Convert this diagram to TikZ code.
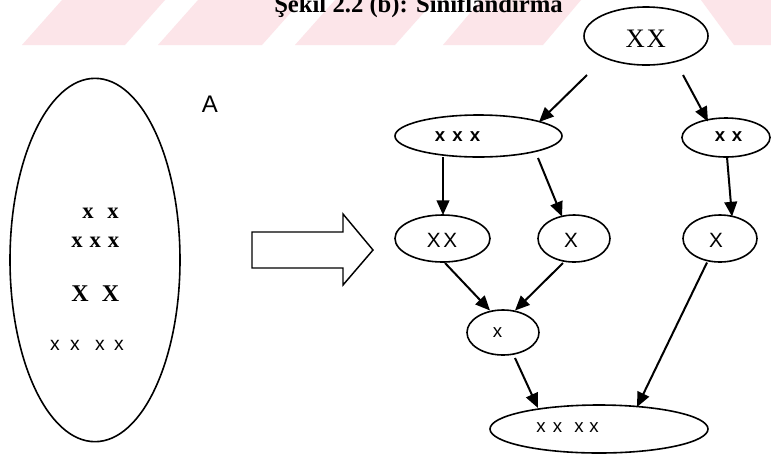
\documentclass[tikz,border=0pt]{standalone}
\usepackage{fontspec}
\setmainfont{Liberation Serif}
\setsansfont{Liberation Sans}
\usetikzlibrary{shapes.geometric,arrows.meta,calc}
% one pixel of the drawing grid
\newlength{\pxu}\setlength{\pxu}{0.75pt}
\definecolor{wmark}{RGB}{252,229,233}
\begin{document}
\begin{tikzpicture}[x=0.75pt,y=-0.75pt,
  oval/.style={draw,ellipse,line width=1.2pt,fill=white,inner sep=0pt},
  arr/.style={line width=1.5pt,-{Triangle[length=11pt,width=9.5pt]}},
  lbl/.style={inner sep=0pt,outer sep=0pt},
  serifbig/.style={font=\bfseries\fontsize{17}{19}\selectfont},
  sanslbl/.style={font=\sffamily\fontsize{15.5}{17}\selectfont},
  sansbold/.style={font=\sffamily\bfseries\fontsize{14}{16}\selectfont},
  sanssmall/.style={font=\sffamily\fontsize{14}{16}\selectfont}]
\useasboundingbox (0,0) rectangle (771,455);
\clip (0,0) rectangle (771,455);
\fill[white] (0,0) rectangle (771,455);

% slanted background stripes along the top edge
\fill[wmark] (22,45) -- (62,0) -- (165,0) -- (125,45) -- cycle;
\fill[wmark] (158,45) -- (198,0) -- (302,0) -- (262,45) -- cycle;
\fill[wmark] (295,45) -- (335,0) -- (435,0) -- (395,45) -- cycle;
\fill[wmark] (443,45) -- (481,0) -- (581,0) -- (543,45) -- cycle;
\fill[wmark] (701,0) -- (771,0) -- (771,45) -- (734,45) -- cycle;

% caption, running off the top edge
\node[lbl, anchor=base, font=\bfseries\fontsize{18.5}{20}\selectfont] (title) at (418.5,12.5) {Şekil 2.2 (b): Sınıflandırma};

% the unsorted set
\node[oval, minimum width=127.5pt, minimum height=272.5pt] (setA) at (95,260) {};
\node[lbl, serifbig] (a1) at (100.5,213) {x\hspace{13.7\pxu}x};
\node[lbl, serifbig] (a2) at (95.25,242) {x\hspace{6.9\pxu}x\hspace{6.9\pxu}x};
\node[lbl, font=\bfseries\fontsize{18}{20}\selectfont] (a3) at (95.25,294) {X\hspace{13.2\pxu}X};
\node[lbl, font=\sffamily\fontsize{14.5}{16}\selectfont] (a4) at (87,345) {x\hspace{10.3\pxu}x\hspace{15.3\pxu}x\hspace{9.3\pxu}x};
\node[lbl, font=\sffamily\fontsize{18}{20}\selectfont] (lblA) at (210,104) {A};

% block arrow
\draw[line width=1.1pt, line join=miter] (252,232) -- (343,232) -- (343,214) -- (373,250)
  -- (343,285) -- (343,268) -- (252,268) -- cycle;

% classification tree
\node[oval, minimum width=93pt, minimum height=43.5pt] (nTop) at (646,36) {};
\node[oval, minimum width=125.25pt, minimum height=31.5pt] (nL) at (478.5,136) {};
\node[oval, minimum width=66pt, minimum height=29.25pt] (nR) at (726,137.5) {};
\node[oval, minimum width=71.25pt, minimum height=35.25pt] (nLL) at (442.5,238.5) {};
\node[oval, minimum width=54pt, minimum height=35.25pt] (nLM) at (574,238.5) {};
\node[oval, minimum width=55.5pt, minimum height=35.25pt] (nRR) at (720,238.5) {};
\node[oval, minimum width=54pt, minimum height=33.75pt] (nMid) at (503,332.5) {};
\node[oval, minimum width=163.5pt, minimum height=36pt] (nBot) at (599,429) {};

\node[lbl, font=\fontsize{20}{22}\selectfont] (tTop) at (645.7,39) {X\hspace{1.75\pxu}X};
\node[lbl, sansbold] (tL) at (457.5,136.7) {x\hspace{7.1\pxu}x\hspace{7.1\pxu}x};
\node[lbl, sansbold] (tR) at (728.5,137) {x\hspace{6.6\pxu}x};
\node[lbl, sanslbl] (tLL) at (442,240.5) {X\hspace{2.7\pxu}X};
\node[lbl, sanslbl] (tLM) at (571,240.5) {X};
\node[lbl, sanslbl] (tRR) at (716,240.5) {X};
\node[lbl, sanssmall] (tMid) at (497.5,333) {x};
\node[lbl, sanssmall] (tBot) at (567.5,428) {x\hspace{7.2\pxu}x\hspace{12.2\pxu}x\hspace{5.7\pxu}x};

\draw[arr] ($(nTop.center)+(-59,39)$) -- ($(nL.center)+(60.5,-14)$);
\draw[arr] ($(nTop.center)+(37,39)$) -- ($(nR.center)+(-18,-16)$);
\draw[arr] ($(nL.center)+(-35.5,21)$) -- ($(nLL.center)+(0.5,-23.5)$);
\draw[arr] ($(nL.center)+(59.5,22)$) -- ($(nLM.center)+(-12,-22)$);
\draw[arr] ($(nR.center)+(1,19.5)$) -- ($(nRR.center)+(12,-22)$);
\draw[arr] ($(nLL.center)+(2.5,24.5)$) -- ($(nMid.center)+(-13,-22)$);
\draw[arr] ($(nLM.center)+(-11,24.5)$) -- ($(nMid.center)+(12,-22)$);
\draw[arr] ($(nMid.center)+(12,25.5)$) -- ($(nBot.center)+(-61,-21)$);
\draw[arr] ($(nRR.center)+(-13,24)$) -- ($(nBot.center)+(38,-22)$);
\end{tikzpicture}
\end{document}
